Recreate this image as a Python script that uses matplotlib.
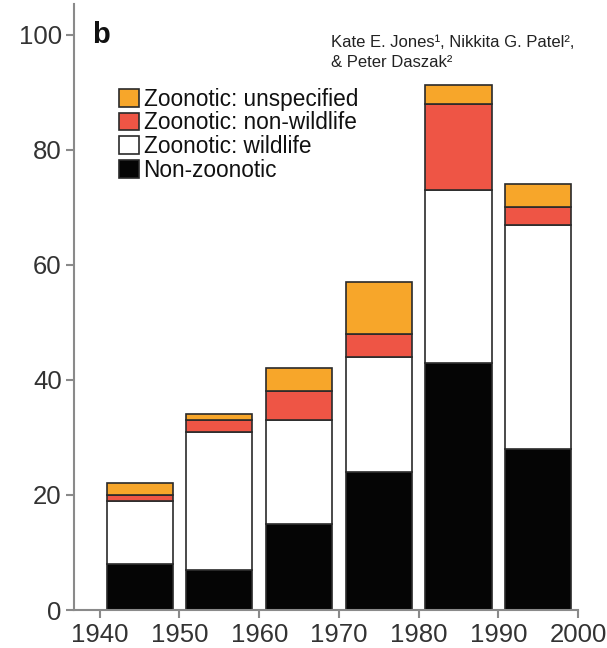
import matplotlib
matplotlib.use('Agg')
import matplotlib.pyplot as plt
import numpy as np

plt.rcParams['font.family'] = ['Liberation Sans', 'DejaVu Sans']

decades = [1940, 1950, 1960, 1970, 1980, 1990]
non_zoonotic = [8, 7, 15, 24, 43, 28]
zoo_wildlife = [11, 24, 18, 20, 30, 39]
zoo_non_wildlife = [1, 2, 5, 4, 15, 3]
zoo_unspecified = [2, 1, 4, 9, 3.3, 4]

xticks = [1940, 1950, 1960, 1970, 1980, 1990, 2000]
yticks = [0, 20, 40, 60, 80, 100]

C_ORANGE = '#F7A62A'
C_RED = '#EE5545'
C_EDGE = '#2a2a2a'
C_AXIS = '#8a8a8a'
C_TEXT = '#333333'

fig = plt.figure(figsize=(6.07, 6.48), dpi=100)
ax = fig.add_axes([0.1224, 0.0586, 0.8298, 0.935])

x = np.array(decades) + 5.0
w = 8.3
b0 = np.array(non_zoonotic, dtype=float)
b1 = b0 + zoo_wildlife
b2 = b1 + zoo_non_wildlife

kw = dict(width=w, edgecolor=C_EDGE, linewidth=1.2, zorder=2)
h_nz = ax.bar(x, non_zoonotic, color='#050505', label='Non-zoonotic', **kw)
h_w = ax.bar(x, zoo_wildlife, bottom=b0, color='white', label='Zoonotic: wildlife', **kw)
h_nw = ax.bar(x, zoo_non_wildlife, bottom=b1, color=C_RED, label='Zoonotic: non-wildlife', **kw)
h_u = ax.bar(x, zoo_unspecified, bottom=b2, color=C_ORANGE, label='Zoonotic: unspecified', **kw)

ax.set_xlim(1936.8, 2000)
ax.set_ylim(0, 105.3)
ax.set_xticks(xticks)
ax.set_yticks(yticks)
ax.tick_params(axis='both', labelsize=18.5, colors=C_AXIS, labelcolor=C_TEXT,
               length=6, width=1.5, direction='out', pad=3)
for s in ['top', 'right']:
    ax.spines[s].set_visible(False)
for s in ['left', 'bottom']:
    ax.spines[s].set_color(C_AXIS)
    ax.spines[s].set_linewidth(1.5)

leg = ax.legend(handles=[h_u, h_nw, h_w, h_nz], loc='upper left',
                bbox_to_anchor=(0.088, 0.862), frameon=False, fontsize=16.3,
                handlelength=0.9, handleheight=0.82, handletextpad=0.2,
                labelspacing=0.03, borderpad=0, borderaxespad=0)
for t in leg.get_texts():
    t.set_color('#111111')

ax.text(1939.0, 100, 'b', fontsize=21, fontweight='bold', color='#111111',
        va='center', ha='left')

fig.text(0.545, 0.934, 'Kate E. Jones¹, Nikkita G. Patel²,',
         fontsize=12, color='#222222', ha='left', va='center')
fig.text(0.545, 0.904, '& Peter Daszak²',
         fontsize=12, color='#222222', ha='left', va='center')

fig.savefig('out.png', dpi=100, facecolor='white')
